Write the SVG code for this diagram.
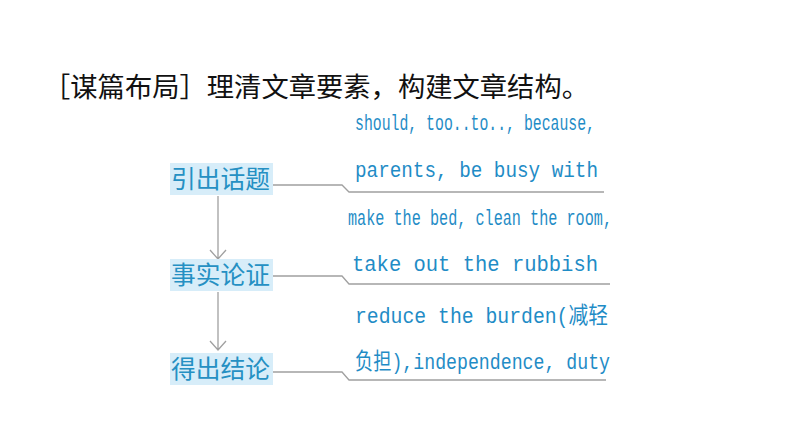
<svg xmlns="http://www.w3.org/2000/svg" width="794" height="447" viewBox="0 0 794 447">
<defs>
<style>
.title{font-family:"Noto Sans CJK SC","Noto Sans CJK JP",sans-serif;font-size:27px;fill:#111}
.box{fill:#d7edf9}
.lbl{font-family:"Noto Sans CJK SC","Noto Sans CJK JP",sans-serif;font-size:24.5px;fill:#2590c3}
.en{font-family:"Liberation Mono","Noto Sans CJK SC",monospace;font-size:22.5px;fill:#1f8cc6}
.ln{fill:none;stroke:#a0a0a0;stroke-width:1.3}
</style>
</defs>
<rect width="794" height="447" fill="#fff"/>
<text class="title" x="43" y="97" textLength="546" lengthAdjust="spacingAndGlyphs">［谋篇布局］理清文章要素，构建文章结构。</text>
<g id="connectors">
<path class="ln" d="M218,196 L218,259 M210,250 L218,259 L226,250"/>
<path class="ln" d="M218,292 L218,350 M210,341 L218,350 L226,341"/>
<path class="ln" d="M273,185 L342,185 L349,192 L604,192"/>
<path class="ln" d="M273,276 L342,276 L349,284 L610,284"/>
<path class="ln" d="M273,372 L342,372 L349,380 L606,380"/>
</g>
<g id="node1">
<rect class="box" x="170" y="163" width="103" height="32"/>
<text class="lbl" x="171" y="188" textLength="99" lengthAdjust="spacingAndGlyphs">引出话题</text>
</g>
<g id="node2">
<rect class="box" x="170" y="259" width="103" height="32"/>
<text class="lbl" x="171" y="284" textLength="99" lengthAdjust="spacingAndGlyphs">事实论证</text>
</g>
<g id="node3">
<rect class="box" x="170" y="353" width="103" height="32"/>
<text class="lbl" x="171" y="378" textLength="99" lengthAdjust="spacingAndGlyphs">得出结论</text>
</g>
<g id="notes">
<text class="en" x="355" y="130" textLength="240" lengthAdjust="spacingAndGlyphs">should, too..to.., because,</text>
<text class="en" x="355" y="177" textLength="243" lengthAdjust="spacingAndGlyphs">parents, be busy with</text>
<text class="en" x="348" y="225" textLength="264" lengthAdjust="spacingAndGlyphs">make the bed, clean the room,</text>
<text class="en" x="352" y="271" textLength="246" lengthAdjust="spacingAndGlyphs">take out the rubbish</text>
<text class="en" x="355" y="323" textLength="253" lengthAdjust="spacingAndGlyphs">reduce the burden(减轻</text>
<text class="en" x="355" y="369" textLength="255" lengthAdjust="spacingAndGlyphs">负担),independence, duty</text>
</g>
</svg>
